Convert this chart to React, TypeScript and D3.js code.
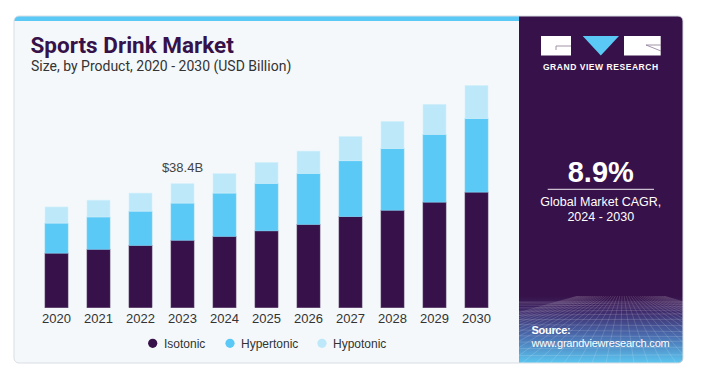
import React from 'react';
import * as d3 from 'd3';

const years = ['2020', '2021', '2022', '2023', '2024', '2025', '2026', '2027', '2028', '2029', '2030'];
const isotonic = [16.9, 18.1, 19.3, 20.9, 22.1, 23.8, 25.8, 28.2, 30.2, 32.7, 35.8];
const hypertonic = [9.3, 10.0, 10.6, 11.5, 13.4, 14.7, 15.8, 17.3, 19.1, 21.0, 22.8];
const hypotonic = [5.0, 5.2, 5.6, 6.0, 6.0, 6.5, 6.9, 7.5, 8.4, 9.3, 10.2];
const seriesNames = ['Isotonic', 'Hypertonic', 'Hypotonic'];
const seriesColors = ['#371149', '#5bc9f6', '#bde8f9'];
const annotationYear = '2023';
const annotationText = '$38.4B';
const title = 'Sports Drink Market';
const subtitle = 'Size, by Product, 2020 - 2030 (USD Billion)';
const cagr = '8.9%';
const cagrLabel = ['Global Market CAGR,', '2024 - 2030'];

const W = 724;
const H = 373;
const FONT = "'Liberation Sans', Arial, sans-serif";

export default function App() {
  const table = years.map((y, i) => ({
    year: y,
    Isotonic: isotonic[i],
    Hypertonic: hypertonic[i],
    Hypotonic: hypotonic[i],
  }));
  const stack = d3.stack<any>().keys(seriesNames)(table);
  const x = d3.scaleBand<string>().domain(years).range([35.5, 497.5]).paddingInner(0.452).paddingOuter(0.226);
  const y = d3.scaleLinear().domain([0, 70]).range([307.7, 307.7 - 70 * 3.229]);

  const annIdx = years.indexOf(annotationYear);
  const annTotal = isotonic[annIdx] + hypertonic[annIdx] + hypotonic[annIdx];

  // decorative mesh in the bottom of the right panel
  const px0 = 519, px1 = 683, gy0 = 296, gy1 = 363;
  const hLines = d3.range(0, 14).map((i) => gy0 + 6 + Math.pow(i / 13, 1.6) * (gy1 - gy0 - 6));
  const vLines = d3.range(-10, 30).map((i) => i);

  const legendItems = [
    { name: seriesNames[0], cx: 152.7, tx: 164 },
    { name: seriesNames[1], cx: 230, tx: 241 },
    { name: seriesNames[2], cx: 322, tx: 333 },
  ];

  return (
    <div style={{ position: 'absolute', left: 0, top: 0 }}>
      <svg width={W} height={H} style={{ display: 'block', background: '#ffffff' }}>
        <defs>
          <linearGradient id="panelGrad" x1="0" y1="0" x2="0" y2="1">
            <stop offset="0" stopColor="#371149" />
            <stop offset="0.25" stopColor="#3f2d6e" />
            <stop offset="0.6" stopColor="#4a6eb0" />
            <stop offset="1" stopColor="#5cc6f0" />
          </linearGradient>
          <clipPath id="cardClip">
            <rect x={14} y={16} width={669} height={347} rx={5} />
          </clipPath>
          <clipPath id="meshClip">
            <rect x={px0} y={gy0} width={px1 - px0} height={gy1 - gy0} />
          </clipPath>
        </defs>

        <g clipPath="url(#cardClip)">
          <rect x={14} y={16} width={669} height={347} fill="#f4f8fb" />
          <rect x={14} y={16} width={505} height={5} fill="#5bc9f6" />
          <rect x={519} y={16} width={164} height={347} fill="#371149" />
          <rect x={519} y={gy0} width={164} height={gy1 - gy0} fill="url(#panelGrad)" />
          <g clipPath="url(#meshClip)" stroke="#ffffff" strokeOpacity={0.25} strokeWidth={0.6} fill="none">
            {hLines.map((hy, i) => (
              <line key={'h' + i} x1={px0} x2={px1} y1={hy} y2={hy + Math.sin(i) * 1.5} />
            ))}
            {vLines.map((v, i) => (
              <line key={'v' + i} x1={600 + v * 2.2} y1={gy0} x2={600 + v * 14 - 120} y2={gy1} />
            ))}
          </g>
        </g>
        <rect x={14} y={16} width={669} height={347} rx={5} fill="none" stroke="#d9dee3" strokeWidth={1} />

        <text x={30.5} y={52.5} fontFamily="Roboto, sans-serif" fontWeight={700} fontSize={22.5} fill="#371149">
          {title}
        </text>
        <text x={31} y={70.5} fontFamily="Roboto, sans-serif" fontSize={14} fill="#333333">
          {subtitle}
        </text>

        {stack.map((layer, si) => (
          <g key={seriesNames[si]} fill={seriesColors[si]}>
            {layer.map((d, i) => (
              <rect
                key={years[i]}
                x={x(years[i])}
                y={y(d[1])}
                width={x.bandwidth()}
                height={y(d[0]) - y(d[1])}
                stroke={si === 0 ? '#5a3a6a' : si === 1 ? '#7fd3f6' : '#d3f0fb'}
                strokeWidth={0.6}
              />
            ))}
          </g>
        ))}

        {years.map((yr) => (
          <text
            key={yr}
            x={(x(yr) as number) + x.bandwidth() / 2}
            y={322.5}
            textAnchor="middle"
            fontFamily={FONT}
            fontSize={13}
            fill="#333333"
          >
            {yr}
          </text>
        ))}

        <text
          x={(x(annotationYear) as number) + x.bandwidth() / 2}
          y={y(annTotal) - 11.5}
          textAnchor="middle"
          fontFamily={FONT}
          fontSize={13}
          fill="#444444"
        >
          {annotationText}
        </text>

        {legendItems.map((it, i) => (
          <g key={it.name}>
            <circle cx={it.cx} cy={343.3} r={4.6} fill={seriesColors[i]} />
            <text x={it.tx} y={347.5} fontFamily={FONT} fontSize={12} fill="#333333">
              {it.name}
            </text>
          </g>
        ))}

        {/* logo */}
        <rect x={541} y={36} width={30} height={19.5} fill="#ffffff" />
        <path d="M556 46 H571 M556 46 V50" stroke="#8a7a96" strokeWidth={0.8} fill="none" />
        <path d="M582.7 36 L619 36 L600.8 55.5 Z" fill="#5bc9f6" />
        <rect x={624} y={36} width={36.7} height={19.5} fill="#ffffff" />
        <path d="M646 45 L661 45 M646 45 L661 51" stroke="#8a7a96" strokeWidth={0.8} fill="none" />
        <text
          x={600.8}
          y={69.5}
          textAnchor="middle"
          fontFamily={FONT}
          fontWeight={700}
          fontSize={8.5}
          letterSpacing={0.55}
          fill="#ffffff"
        >
          GRAND VIEW RESEARCH
        </text>

        <text x={600.8} y={181.7} textAnchor="middle" fontFamily={FONT} fontWeight={700} fontSize={29} fill="#ffffff">
          {cagr}
        </text>
        <line x1={547.7} x2={654} y1={189.3} y2={189.3} stroke="#c9bfd0" strokeWidth={1.2} />
        <text x={600.8} y={206} textAnchor="middle" fontFamily={FONT} fontSize={12.5} fill="#ffffff">
          {cagrLabel[0]}
        </text>
        <text x={600.8} y={221} textAnchor="middle" fontFamily={FONT} fontSize={12.5} fill="#ffffff">
          {cagrLabel[1]}
        </text>

        <text x={531.5} y={334} fontFamily={FONT} fontWeight={700} fontSize={11} fill="#ffffff" letterSpacing={-0.3}>
          Source:
        </text>
        <text x={531.5} y={347} fontFamily={FONT} fontSize={11} fill="#ffffff" letterSpacing={-0.2}>
          www.grandviewresearch.com
        </text>
      </svg>
    </div>
  );
}
